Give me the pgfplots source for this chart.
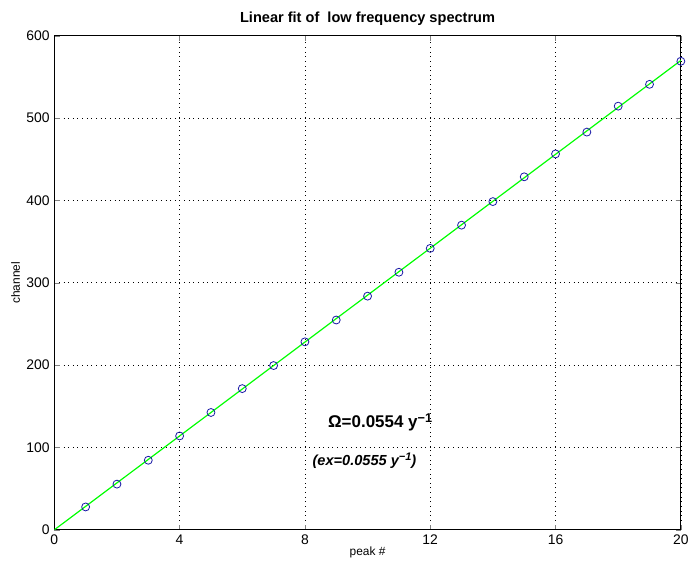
\documentclass[border=0pt]{standalone}
\usepackage{pgfplots}
\pgfplotsset{compat=1.18}
\usepackage{fontspec}
\setmainfont{Liberation Sans}
\definecolor{mkblue}{rgb}{0.1,0.1,0.65}
\newcommand{\supx}[1]{\raisebox{0.55ex}{\scalebox{0.75}{#1}}}
\begin{document}
\begin{tikzpicture}
\begin{axis}[
  scale only axis,
  width=473pt, height=373pt,
  xmin=0, xmax=20, ymin=0, ymax=600,
  xtick={0,4,...,20}, ytick={0,100,...,600},
  grid=major,
  major grid style={black, line width=0.5pt, dash pattern=on 0.5pt off 3pt},
  tick align=inside,
  tick pos=both,
  major tick length=4pt,
  axis line style={black, line width=0.9pt},
  /pgf/number format/assume math mode=true,
  ticklabel style={font=\fontsize{10.5}{12}\selectfont},
  title={\bfseries Linear fit of\ \ low frequency spectrum},
  title style={font=\fontsize{11}{13}\selectfont, yshift=-2pt},
  xlabel={peak \#},
  ylabel={channel},
  xlabel style={font=\fontsize{9}{11}\selectfont, yshift=5pt},
  ylabel style={font=\fontsize{9}{11}\selectfont, yshift=-2pt},
]
\addplot[color=green, line width=0.9pt] coordinates {(0,0) (20,570)};
\addplot[only marks, mark=o, mark size=3pt, color=mkblue, mark options={line width=0.6pt}] coordinates {
(1,27.8) (2,55.5) (3,84.5) (4,114.0) (5,142.5) (6,171.5) (7,199.5) (8,228.3) (9,254.8) (10,283.8)
(11,312.8) (12,341.8) (13,370.0) (14,398.6) (15,428.7) (16,456.5) (17,483.0) (18,514.5) (19,541.0) (20,569.0)
};
\node[font=\fontsize{12.8}{15}\selectfont\bfseries] at (axis cs:10.4,131) {Ω=0.0554 y\supx{−1}};
\node[font=\fontsize{11}{13}\selectfont\bfseries\itshape] at (axis cs:9.9,84) {(ex=0.0555 y\supx{−1})};
\end{axis}
\path ([xshift=-41pt,yshift=-31pt]current axis.south west) rectangle ([xshift=5pt,yshift=27pt]current axis.north east);
\end{tikzpicture}
\end{document}
